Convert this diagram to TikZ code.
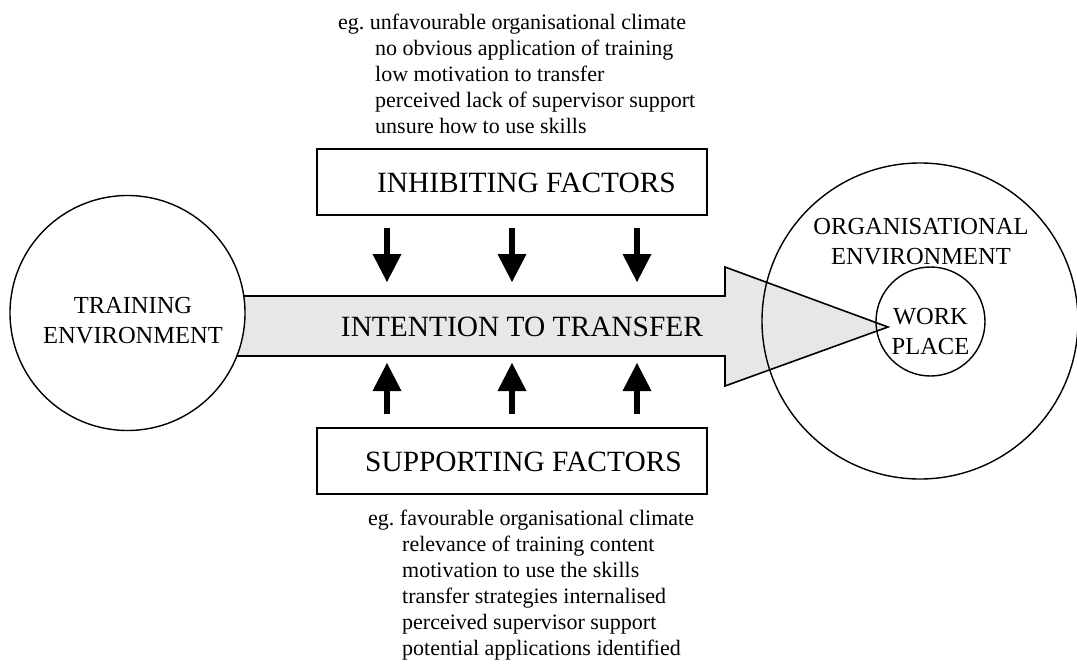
\documentclass[tikz,border=0pt]{standalone}
\usepackage{fontspec}
\setmainfont{Liberation Serif}
\usetikzlibrary{arrows.meta}
\definecolor{flowgray}{RGB}{231,231,231}
\frenchspacing
\begin{document}
\begin{tikzpicture}[x=1pt,y=-1pt,
  outline/.style={draw=black, line width=1.6pt, line join=miter},
  ring/.style={circle, draw=black, line width=1.4pt, inner sep=0pt},
  factorbox/.style={rectangle, draw=black, line width=1.6pt, inner sep=0pt},
  midtext/.style={font=\fontsize{24.5}{29.5}\selectfont, align=center, inner sep=0pt},
  bigtext/.style={font=\fontsize{29.4}{35}\selectfont, inner sep=0pt},
  note/.style={font=\fontsize{22}{26}\selectfont, inner sep=0pt, anchor=base west},
  push/.style={line width=6pt, -{Triangle[width=29pt,length=28pt,line width=0pt]}}
]
\useasboundingbox (0,0) rectangle (1077,664);

% broad arrow: intention to transfer
\draw[outline, fill=flowgray] (236,296) -- (725,296) -- (725,267) -- (888,327)
  -- (725,386) -- (725,356) -- (236,356) -- cycle;
\node[bigtext] (intent) at (522,326.5) {INTENTION TO TRANSFER};

% training environment
\node[ring, fill=white, minimum size=235pt] (train) at (127.5,313) {};
\node[midtext] (trainlbl) at (133,320.75) {TRAINING\\ENVIRONMENT};

% organisational environment and work place
\node[ring, minimum size=316pt] (org) at (920,321) {};
\node[midtext] (orglbl) at (921,241.5) {ORGANISATIONAL\\ENVIRONMENT};
\node[ring, minimum size=109pt] (work) at (930.5,321.5) {};
\node[midtext] (worklbl) at (930.5,331.5) {WORK\\PLACE};

% factor boxes
\node[factorbox, minimum width=390pt, minimum height=66pt] (inh) at (512,182) {};
\node[bigtext, anchor=west] (inhlbl) at (377,182.5) {INHIBITING FACTORS};
\node[factorbox, minimum width=390pt, minimum height=66pt] (sup) at (512,461) {};
\node[bigtext, anchor=west] (suplbl) at (365,462) {SUPPORTING FACTORS};

% pressure arrows on the broad arrow
\foreach \i/\x in {1/387,2/512,3/637}{
  \coordinate (d\i s) at (\x,228);
  \coordinate (d\i e) at (\x,282);
  \coordinate (u\i s) at (\x,414);
  \coordinate (u\i e) at (\x,363);
  \draw[push] (d\i s) -- (d\i e);
  \draw[push] (u\i s) -- (u\i e);
}

% inhibiting examples
\node[note] (inh0) at (338,29) {eg.\ unfavourable organisational climate};
\node[note] (inh1) at (375,55) {no obvious application of training};
\node[note] (inh2) at (375,81) {low motivation to transfer};
\node[note] (inh3) at (375,107) {perceived lack of supervisor support};
\node[note] (inh4) at (375,133) {unsure how to use skills};

% supporting examples
\node[note] (sup0) at (368,525) {eg.\ favourable organisational climate};
\node[note] (sup1) at (402,551) {relevance of training content};
\node[note] (sup2) at (402,577) {motivation to use the skills};
\node[note] (sup3) at (402,603) {transfer strategies internalised};
\node[note] (sup4) at (402,629) {perceived supervisor support};
\node[note] (sup5) at (402,655) {potential applications identified};
\end{tikzpicture}
\end{document}
